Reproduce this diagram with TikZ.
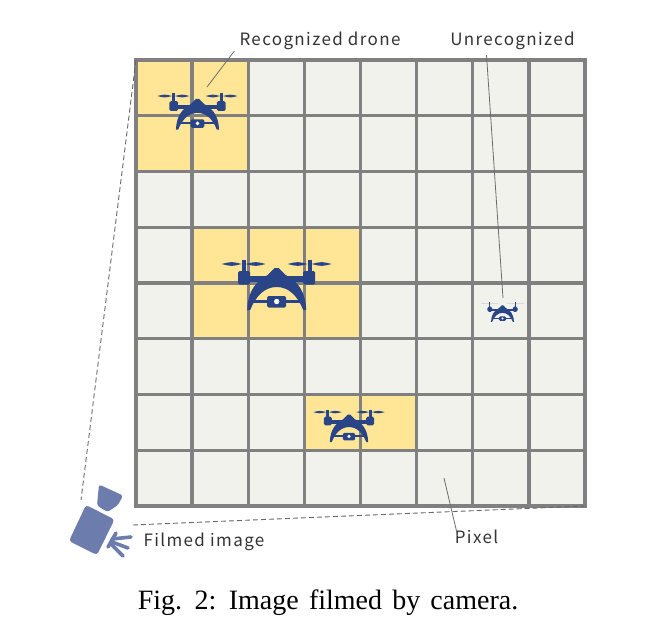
\documentclass[tikz,border=0pt]{standalone}
\usepackage{fontspec}
\setmainfont{Noto Sans CJK JP}
\newfontfamily\labelfont[LetterSpace=8]{Noto Sans CJK JP}
\newfontfamily\captionfont[WordSpace=1.45]{Liberation Serif}
\usepackage{tikz}
\usetikzlibrary{calc}

\definecolor{cellGray}{HTML}{F2F2EC}
\definecolor{cellYellow}{HTML}{FFE697}
\definecolor{gridGray}{HTML}{808080}
\definecolor{droneBlue}{HTML}{2A4488}
\definecolor{cameraBlue}{HTML}{6B7CAD}

\tikzset{
    lbl/.style={font=\labelfont\fontsize{17}{19}\selectfont, text=black!80, inner sep=0pt},
    leader/.style={gridGray!85!black, line width=0.8pt},
    viewline/.style={gridGray!80!black, line width=0.9pt, dash pattern=on 5pt off 3pt},
    pics/drone/.style={code={
        \fill[droneBlue] (-55,-26) .. controls (-45,-28.5) .. (-35,-26) .. controls (-45,-23.5) .. cycle;
        \fill[droneBlue] (-31,-26) .. controls (-21,-28.5) .. (-11,-26) .. controls (-21,-23.5) .. cycle;
        \fill[droneBlue] (11,-26) .. controls (21,-28.5) .. (31,-26) .. controls (21,-23.5) .. cycle;
        \fill[droneBlue] (35,-26) .. controls (45,-28.5) .. (55,-26) .. controls (45,-23.5) .. cycle;
        \fill[droneBlue] (-35,-30) rectangle (-31,-17);
        \fill[droneBlue] (31,-30) rectangle (35,-17);
        \fill[droneBlue, rounded corners=1.5pt] (-38.5,-19) rectangle (-26.5,-5.5);
        \fill[droneBlue, rounded corners=1.5pt] (26.5,-19) rectangle (38.5,-5.5);
        \fill[droneBlue] (-28,-14) rectangle (28,-8);
        \fill[droneBlue] (-29.5,20) .. controls (-29,2) and (-21,-9) .. (-9,-15)
            -- (-2,-22) -- (2,-22) -- (9,-15)
            .. controls (21,-9) and (29,2) .. (29.5,20)
            -- (26.5,20) .. controls (21,6) and (12,-3) .. (0,-3)
            .. controls (-12,-3) and (-21,6) .. (-26.5,20) -- cycle;
        \fill[droneBlue] (-25,9.5) rectangle (25,12.5);
        \fill[droneBlue, rounded corners=1.5pt] (-9.5,6) rectangle (9.5,17.5);
        \fill[white] (0,11.5) circle (2.7);
    }}
}

\begin{document}
\begin{tikzpicture}[x=1pt, y=-1pt]
    \useasboundingbox (0,0) rectangle (646,624);

    \coordinate (gridNW) at (136,60);
    \coordinate (gridSE) at (585,506);
    \def\cellW{56.125}
    \def\cellH{55.75}

    % cells
    \fill[cellGray] (gridNW) rectangle (gridSE);
    \fill[cellYellow] (136,60) rectangle (248,171);
    \fill[cellYellow] (192,227) rectangle (360,338);
    \fill[cellYellow] (304,394) rectangle (416,450);

    % grid
    \foreach \i in {0,...,8} {
        \draw[gridGray, line width=3.4pt] ({136+\i*\cellW},58.3) -- ({136+\i*\cellW},507.7);
        \draw[gridGray, line width=3.4pt] (134.3,{60+\i*\cellH}) -- (586.7,{60+\i*\cellH});
    }

    \pic[scale=0.73] at (197.5,115) {drone};
    \pic at (276.7,290) {drone};
    \pic[scale=0.65] at (349,429) {drone};
    \pic[scale=0.39] at (502.5,314) {drone};

    % camera
    \fill[cameraBlue, rounded corners=3pt] (86,505) -- (114.5,519.5) -- (97,555) -- (69,541) -- cycle;
    \fill[cameraBlue, rounded corners=2.5pt] (99,484.5) -- (123,495.5) -- (118,505) -- (107.5,512) -- (97,505.5) -- cycle;
    \draw[cameraBlue, line width=3.6pt, line cap=round] (116,533) -- (108,547);
    \draw[cameraBlue, line width=3.6pt, line cap=round] (112,539) -- (131,537);
    \draw[cameraBlue, line width=3.6pt, line cap=round] (112,542) -- (128,548);
    \draw[cameraBlue, line width=3.6pt, line cap=round] (112,545) -- (123,556);

    \node[lbl] (labelRecog) at (320,41) {Recognized drone};
    \node[lbl] (labelUnrec) at (512.5,41) {Unrecognized};
    \node[lbl] (labelPixel) at (476.5,537) {Pixel};
    \node[lbl] (labelFilmed) at (204,542) {Filmed image};
    \node[font=\captionfont\fontsize{28}{30}\selectfont, inner sep=0pt] (labelCaption) at (328,603) {Fig. 2: Image filmed by camera.};

    \coordinate (tipRecog) at (207,87);
    \coordinate (tipUnrec) at (503,298);
    \coordinate (tipPixel) at (444,478);
    \coordinate (viewTop) at (81,500);
    \coordinate (viewBottom) at (133,525);

    \draw[leader] ([xshift=-5pt,yshift=-1pt]labelRecog.south west) -- (tipRecog);
    \draw[leader] ([xshift=-26pt,yshift=-5pt]labelUnrec.south) -- (tipUnrec);
    \draw[leader] ([xshift=3pt,yshift=-6pt]labelPixel.north west) -- (tipPixel);
    \draw[viewline] (gridNW) -- (viewTop);
    \draw[viewline] (viewBottom) -- (gridSE);
\end{tikzpicture}
\end{document}
